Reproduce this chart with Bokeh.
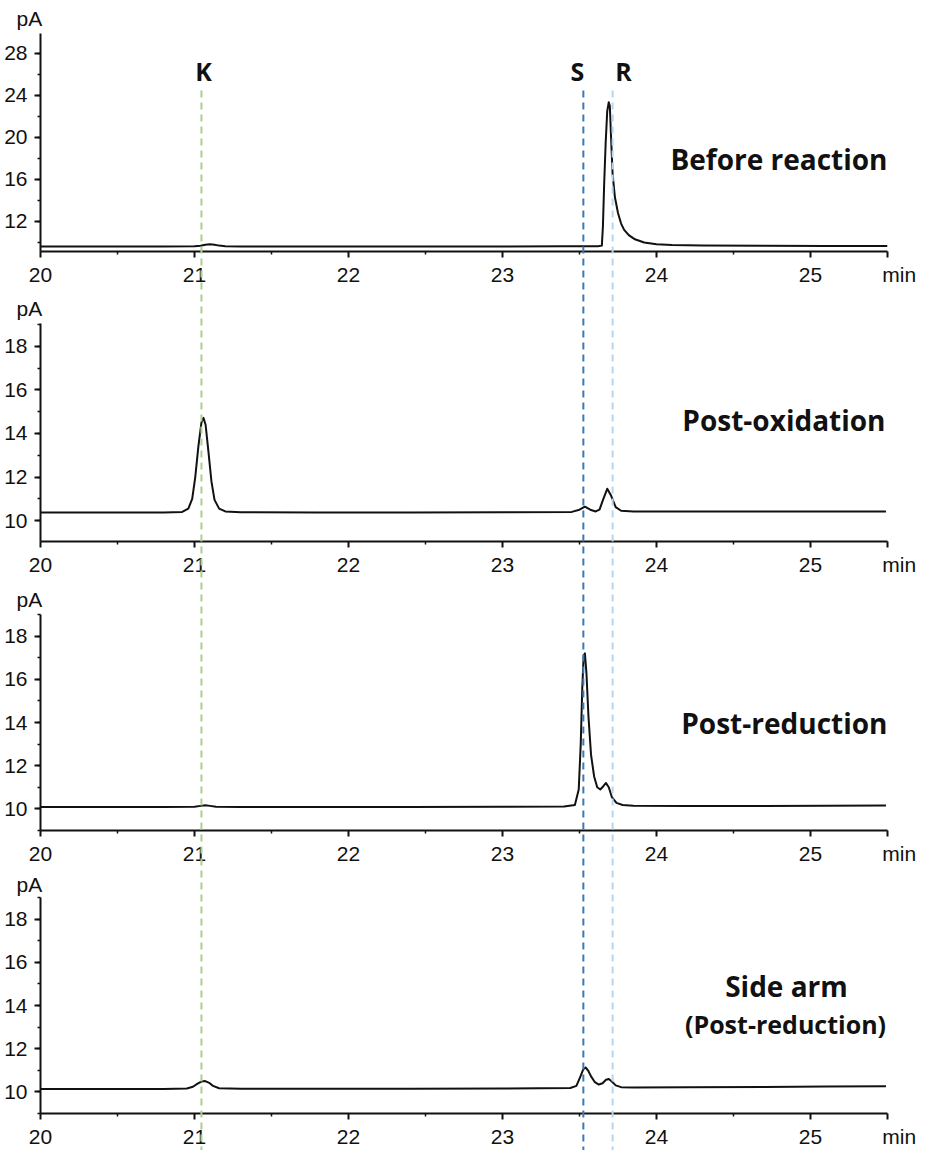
from bokeh.plotting import figure
from bokeh.models import Range1d, SingleIntervalTicker, FixedTicker, Label, Title
from bokeh.layouts import column
from bokeh.embed import file_html
from bokeh.resources import INLINE

# ---------------- data ----------------
x_unit = "min"
y_unit = "pA"
x_limits = [20.0, 25.5]
x_tick_values = [20, 21, 22, 23, 24, 25]
x_minor_values = [20.5, 21.5, 22.5, 23.5, 24.5]

ref_labels = ["K", "S", "R"]
ref_times = [21.045, 23.525, 23.715]
ref_colors = ["#a9d18e", "#3b7bb5", "#b4d5ea"]

panel_titles = ["Before reaction", "Post-oxidation", "Post-reduction", "Side arm"]
panel_subtitles = ["", "", "", "(Post-reduction)"]

time_before = [20.00, 20.40, 20.80, 21.00, 21.04, 21.07, 21.10, 21.13, 21.16, 21.20,
               21.30, 21.80, 22.40, 23.00, 23.40, 23.62, 23.645, 23.652, 23.660, 23.670,
               23.680, 23.690, 23.697, 23.705, 23.715, 23.730, 23.750, 23.770, 23.790, 23.820,
               23.860, 23.920, 24.000, 24.100, 24.300, 24.700, 25.100, 25.500]
signal_before = [9.62, 9.62, 9.62, 9.63, 9.68, 9.78, 9.82, 9.78, 9.70, 9.64,
                 9.62, 9.62, 9.62, 9.62, 9.63, 9.64, 9.70, 11.5, 15.5, 19.5,
                 22.5, 23.35, 23.0, 20.0, 16.5, 14.3, 12.8, 11.8, 11.2, 10.7,
                 10.3, 10.0, 9.83, 9.75, 9.70, 9.68, 9.67, 9.67]

time_post_ox = [20.00, 20.40, 20.80, 20.92, 20.96, 20.985, 21.005, 21.025, 21.045, 21.058,
                21.072, 21.09, 21.11, 21.13, 21.16, 21.20, 21.30, 21.80, 22.40, 23.00,
                23.45, 23.50, 23.535, 23.57, 23.605, 23.63, 23.655, 23.68, 23.705, 23.735,
                23.77, 23.85, 24.20, 24.70, 25.10, 25.49]
signal_post_ox = [10.37, 10.37, 10.37, 10.40, 10.55, 11.0, 12.0, 13.4, 14.5, 14.72,
                  14.4, 13.2, 11.8, 10.95, 10.55, 10.42, 10.38, 10.37, 10.37, 10.38,
                  10.40, 10.50, 10.64, 10.50, 10.42, 10.50, 11.0, 11.46, 11.15, 10.62,
                  10.45, 10.42, 10.42, 10.42, 10.42, 10.42]

time_post_red = [20.00, 20.40, 20.80, 21.00, 21.04, 21.07, 21.10, 21.14, 21.30, 21.80,
                 22.40, 23.00, 23.40, 23.47, 23.495, 23.508, 23.518, 23.527, 23.535, 23.545,
                 23.558, 23.575, 23.595, 23.615, 23.635, 23.655, 23.672, 23.69, 23.71, 23.74,
                 23.78, 23.85, 24.20, 24.70, 25.10, 25.49]
signal_post_red = [10.09, 10.09, 10.09, 10.10, 10.14, 10.17, 10.14, 10.10, 10.09, 10.09,
                   10.09, 10.10, 10.11, 10.18, 10.9, 13.0, 15.6, 17.1, 17.2, 16.3,
                   14.3, 12.5, 11.5, 11.0, 10.9, 11.05, 11.2, 11.0, 10.55, 10.28,
                   10.18, 10.15, 10.14, 10.14, 10.15, 10.16]

time_side_arm = [20.00, 20.40, 20.80, 20.95, 20.99, 21.02, 21.045, 21.07, 21.095, 21.12,
                 21.16, 21.30, 21.80, 22.40, 23.00, 23.44, 23.48, 23.505, 23.525, 23.54,
                 23.555, 23.575, 23.60, 23.625, 23.65, 23.672, 23.69, 23.71, 23.735, 23.77,
                 23.85, 24.20, 24.70, 25.10, 25.49]
signal_side_arm = [10.14, 10.14, 10.14, 10.16, 10.24, 10.38, 10.48, 10.50, 10.42, 10.28,
                   10.17, 10.15, 10.15, 10.15, 10.16, 10.18, 10.28, 10.70, 11.05, 11.13,
                   11.0, 10.72, 10.45, 10.34, 10.40, 10.56, 10.6, 10.48, 10.30, 10.22,
                   10.20, 10.21, 10.23, 10.25, 10.26]

y_limits = [(9.14, 29.9), (9.04, 19.05), (9.0, 19.0), (9.0, 19.0)]
y_tick_steps = [4, 2, 2, 2]

times = [time_before, time_post_ox, time_post_red, time_side_arm]
signals = [signal_before, signal_post_ox, signal_post_red, signal_side_arm]

# ---------------- layout (pixels) ----------------
W = 917
TOTAL_H = 1150
FL, FR = 40, 887
fig_heights = [288, 290, 289, 283]
border_tops = [33, 35, 36, 30]
frame_heights = [218, 218, 218, 218]
unit_standoffs = [7, 7, 7, 4]

INK = "#111111"
TICK_FONT = "Liberation Sans"
TITLE_FONT = "Open Sans"


def dx(cx):
    return x_limits[0] + (cx - FL) * (x_limits[1] - x_limits[0]) / (FR - FL)


def dy(i, below_top):
    """data y of a point `below_top` pixels below the top of panel i's frame"""
    y0, y1 = y_limits[i]
    return y1 - below_top * (y1 - y0) / frame_heights[i]


def add_text(p, i, text, cx, below_top, size, align="left"):
    p.add_layout(Label(x=dx(cx), y=dy(i, below_top), text=text, text_align=align,
                       text_baseline="alphabetic", text_font=TITLE_FONT,
                       text_font_size=size, text_color=INK, text_font_style="bold"))


figs = []
for i in range(4):
    y0, y1 = y_limits[i]
    h = fig_heights[i]
    p = figure(width=W, height=h,
               x_range=Range1d(*x_limits), y_range=Range1d(y0, y1),
               output_backend="svg", toolbar_location=None, title=None,
               min_border_left=FL, min_border_right=W - FR,
               min_border_top=border_tops[i],
               min_border_bottom=h - border_tops[i] - frame_heights[i])
    p.outline_line_color = None
    p.grid.visible = False
    p.background_fill_color = "white"
    p.border_fill_color = "white"

    p.xaxis.ticker = FixedTicker(ticks=x_tick_values + [x_limits[1]], minor_ticks=x_minor_values)
    # unit "min" written at the right end of the time axis
    p.xaxis.major_label_overrides = {x_limits[1]: "\u00a0" * 4 + x_unit}
    p.yaxis.ticker = SingleIntervalTicker(interval=y_tick_steps[i], num_minor_ticks=2)
    for ax in (p.xaxis[0], p.yaxis[0]):
        ax.axis_line_width = 2
        ax.axis_line_color = INK
        ax.major_tick_line_width = 2
        ax.major_tick_line_color = INK
        ax.minor_tick_line_width = 1.5
        ax.minor_tick_line_color = INK
        ax.major_tick_out = 6
        ax.major_tick_in = 0
        ax.minor_tick_out = 3
        ax.minor_tick_in = 0
        ax.major_label_text_font = TICK_FONT
        ax.major_label_text_font_size = "21px"
        ax.major_label_text_color = INK
    p.xaxis.major_label_standoff = 5
    p.yaxis.major_label_standoff = 7

    # unit "pA" above the top of the signal axis
    p.add_layout(Title(text=y_unit, align="left", offset=-24, standoff=unit_standoffs[i],
                       vertical_align="bottom", text_font=TICK_FONT,
                       text_font_size="21px", text_font_style="normal",
                       text_color=INK), "above")

    p.line(times[i], signals[i], line_color=INK, line_width=2, line_join="round")
    figs.append(p)

# peak labels
for lab, cx in zip(ref_labels, [203, 577, 623]):
    add_text(figs[0], 0, lab, cx, 37, "25px", align="center")

# panel titles
add_text(figs[0], 0, panel_titles[0], 887, 125, "28px", align="right")
add_text(figs[1], 1, panel_titles[1], 885, 96, "28px", align="right")
add_text(figs[2], 2, panel_titles[2], 887, 109, "28px", align="right")
add_text(figs[3], 3, panel_titles[3], 786, 89, "28px", align="center")
add_text(figs[3], 3, panel_subtitles[3], 785, 128, "25px", align="center")

# overlay carrying the dashed reference lines across all four panels
overlay = figure(width=W, height=TOTAL_H, x_range=Range1d(*x_limits),
                 y_range=Range1d(TOTAL_H, 0),
                 output_backend="svg", toolbar_location=None, title=None,
                 x_axis_location=None, y_axis_location=None,
                 min_border_left=FL, min_border_right=W - FR,
                 min_border_top=0, min_border_bottom=0)
overlay.background_fill_color = None
overlay.border_fill_color = None
overlay.outline_line_color = None
overlay.grid.visible = False
line_top = border_tops[0] + 57
overlay.segment(x0=ref_times, y0=[line_top] * len(ref_times),
                x1=ref_times, y1=[TOTAL_H] * len(ref_times),
                line_color=ref_colors, line_width=2, line_dash="7 5")
overlay.styles = {"position": "absolute", "pointer-events": "none"}

layout = column(*figs, overlay, spacing=0)
open("out.html", "w").write(file_html(layout, INLINE))
